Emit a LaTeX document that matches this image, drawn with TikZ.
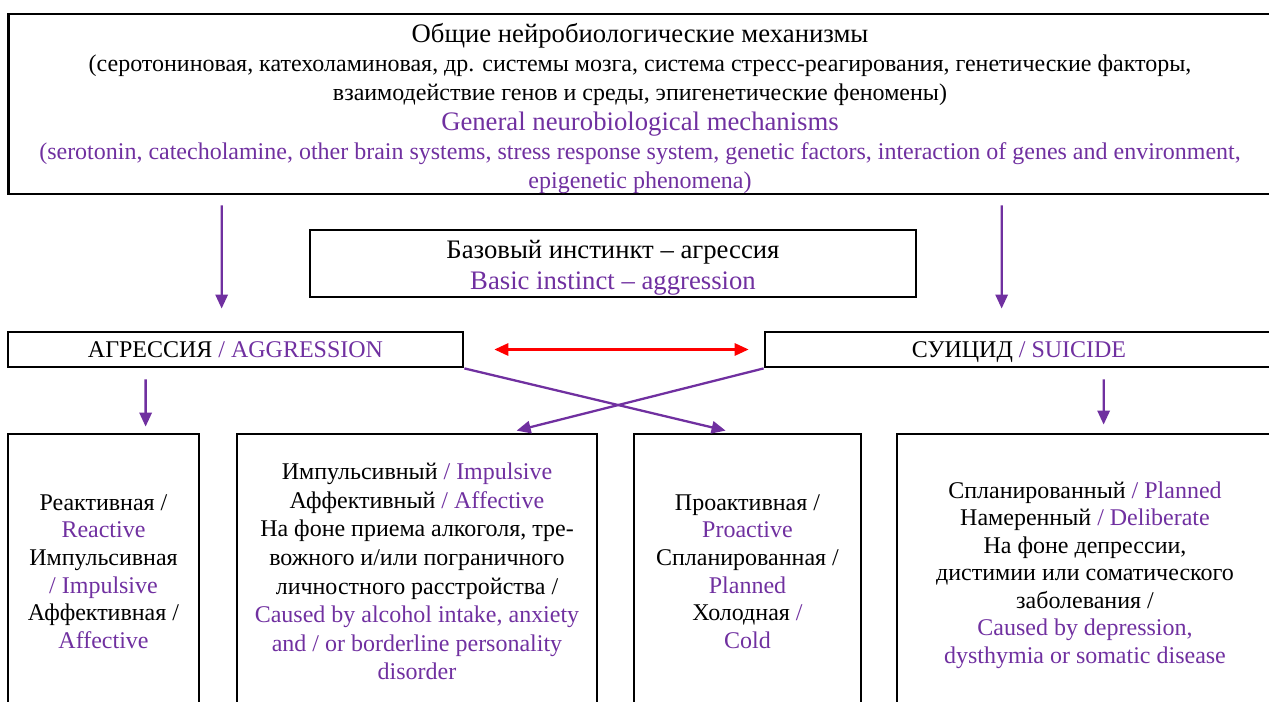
\documentclass[tikz,border=0pt]{standalone}
\usepackage{fontspec}
\setmainfont{Liberation Serif}
\usepackage{xcolor}
\usepackage{tikz}
\usetikzlibrary{arrows.meta, positioning, calc}
\definecolor{engpurple}{RGB}{112,48,160}
\newcommand{\eng}[1]{\textcolor{engpurple}{#1}}

\begin{document}
\begin{tikzpicture}[
  x=0.02cm, y=-0.02cm,
  box/.style={rectangle, draw, line width=1.6pt, align=center, inner sep=0pt, font=\fontsize{13.65}{15.7}\selectfont},
  head/.style={font=\fontsize{15.2}{17.6}\selectfont},
  arrow/.style={-{Triangle[length=8pt, width=7pt]}, line width=1.3pt, engpurple},
  doublearrow/.style={{Triangle[length=8pt, width=7pt]}-{Triangle[length=8pt, width=7pt]}, line width=1.3pt, red},
]
\useasboundingbox (0,0) rectangle (1269,702);
\clip (0,0) rectangle (1269,702);

% Mechanisms
\node[box, minimum width=25.28cm, minimum height=3.6cm, font=\fontsize{13.65}{16.7}\selectfont] (mech) at (640,104) {%
  {\fontsize{15.2}{16.7}\selectfont\rule{0pt}{16pt}Общие нейробиологические механизмы}\\
  (серотониновая, катехоламиновая, др. системы мозга, система стресс-реагирования, генетические факторы,\\
  взаимодействие генов и среды, эпигенетические феномены)\\
  {\fontsize{15.2}{16.7}\selectfont\eng{General neurobiological mechanisms}}\\
  \eng{(serotonin, catecholamine, other brain systems, stress response system, genetic factors, interaction of genes and environment,}\\
  \eng{epigenetic phenomena)}};

% Instinct
\node[box, head, minimum width=12.12cm, minimum height=1.34cm] (basic) at (613,263.5) {%
  \rule{0pt}{15pt}Базовый инстинкт -- агрессия\\
  \eng{Basic instinct -- aggression}};

% Aggression / suicide
\node[box, minimum width=9.1cm, minimum height=0.7cm, text height=11pt, text depth=1.5pt] (aggr) at (235.5,349.5) {АГРЕССИЯ \eng{/ AGGRESSION}};
\node[box, minimum width=10.16cm, minimum height=0.7cm, text height=11pt, text depth=1.5pt] (suic) at (1019,349.5) {СУИЦИД \eng{/ SUICIDE}};

% Types
\node[box, minimum width=3.82cm, minimum height=5.5cm] (react) at (103.5,571.5) {%
  Реактивная /\\ \eng{Reactive}\\ Импульсивная\\ \eng{/ Impulsive}\\ Аффективная /\\ \eng{Affective}};
\node[box, minimum width=7.2cm, minimum height=5.5cm, font=\fontsize{13.65}{16.3}\selectfont] (impuls) at (417,571.5) {%
  Импульсивный \eng{/ Impulsive}\\
  Аффективный \eng{/ Affective}\\
  На фоне приема алкоголя, тре-\\
  вожного и/или пограничного\\
  личностного расстройства /\\
  \eng{Caused by alcohol intake, anxiety}\\
  \eng{and / or borderline personality}\\
  \eng{disorder}};
\node[box, minimum width=4.54cm, minimum height=5.5cm] (proact) at (747.5,571.5) {%
  Проактивная /\\ \eng{Proactive}\\ Спланированная /\\ \eng{Planned}\\ Холодная \eng{/}\\ \eng{Cold}};
\node[box, minimum width=7.52cm, minimum height=5.5cm] (planned) at (1085,571.5) {%
  \rule{0pt}{13.5pt}Спланированный \eng{/ Planned}\\
  Намеренный \eng{/ Deliberate}\\
  На фоне депрессии,\\
  дистимии или соматического\\
  заболевания /\\
  \eng{Caused by depression,}\\
  \eng{dysthymia or somatic disease}};

% Arrows
\draw[arrow] ([shift={(215,10)}]mech.south west) -- ([shift={(215,-22)}]aggr.north west);
\draw[arrow] ([shift={(995,10)}]mech.south west) -- ([shift={(238,-22)}]suic.north west);
\draw[doublearrow] ([shift={(30,0)}]aggr.east) -- ([shift={(-15,0)}]suic.west);
\draw[arrow] ([shift={(139,11)}]aggr.south west) -- ([shift={(139,-6)}]react.north west);
\draw[arrow] ([shift={(340,11)}]suic.south west) -- ([shift={(208,-8)}]planned.north west);
\draw[arrow] (aggr.south east) -- ([shift={(93,-2)}]proact.north west);
\draw[arrow] (suic.south west) -- ([shift={(281,-2)}]impuls.north west);

\end{tikzpicture}
\end{document}
